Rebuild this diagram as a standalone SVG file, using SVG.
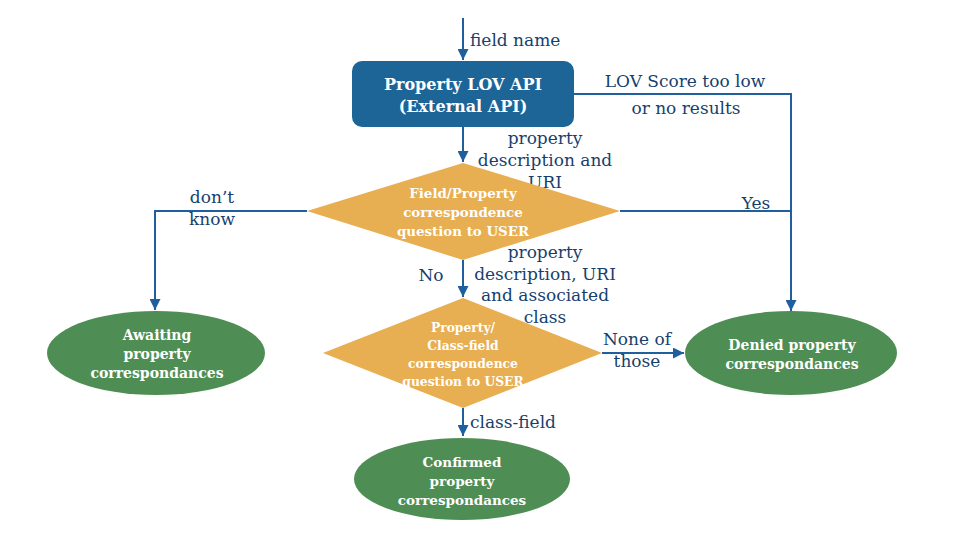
<svg xmlns="http://www.w3.org/2000/svg" width="960" height="540" viewBox="0 0 960 540">
<style>
.lbl{font-family:"DejaVu Serif","Liberation Serif",serif;font-size:17px;fill:#173f6d}
.nt{font-family:"DejaVu Serif","Liberation Serif",serif;font-weight:bold;fill:#ffffff;text-anchor:middle}
.ln{fill:none;stroke:#1f5f9e;stroke-width:2}
.dia{fill:#e8ae52}
.ell{fill:#4e8e54}
</style>
<defs>
<marker id="ah" viewBox="0 0 10 10" refX="10" refY="5" markerWidth="6" markerHeight="5.5" orient="auto" markerUnits="strokeWidth">
<path d="M0,0 L10,5 L0,10 z" fill="#1f5f9e"/>
</marker>
</defs>
<rect width="960" height="540" fill="#ffffff"/>
<g id="connectors">
<path class="ln" d="M463,18 V60" marker-end="url(#ah)"/>
<path class="ln" d="M574,94 H791 V311" marker-end="url(#ah)"/>
<path class="ln" d="M463,127 V162" marker-end="url(#ah)"/>
<path class="ln" d="M307,211 H155 V310" marker-end="url(#ah)"/>
<path class="ln" d="M620,211 H791"/>
<path class="ln" d="M463,260 V297" marker-end="url(#ah)"/>
<path class="ln" d="M602,353 H684" marker-end="url(#ah)"/>
<path class="ln" d="M463,408 V436" marker-end="url(#ah)"/>
<text class="lbl" x="470" y="46">field name</text>
<text class="lbl" x="685" y="87" text-anchor="middle">LOV Score too low</text>
<text class="lbl" x="686" y="114" text-anchor="middle">or no results</text>
<text class="lbl" text-anchor="middle"><tspan x="545" y="144">property</tspan><tspan x="545" y="166">description and</tspan><tspan x="545" y="188">URI</tspan></text>
<text class="lbl" text-anchor="middle"><tspan x="212" y="203">don’t</tspan><tspan x="212" y="225">know</tspan></text>
<text class="lbl" x="756" y="209" text-anchor="middle">Yes</text>
<text class="lbl" x="431" y="281" text-anchor="middle">No</text>
<text class="lbl" text-anchor="middle"><tspan x="545" y="258">property</tspan><tspan x="545" y="280">description, URI</tspan><tspan x="545" y="301">and associated</tspan><tspan x="545" y="323">class</tspan></text>
<text class="lbl" text-anchor="middle"><tspan x="637" y="345">None of</tspan><tspan x="637" y="367">those</tspan></text>
<text class="lbl" x="470" y="428">class-field</text>
</g>
<g id="lov">
<rect x="352" y="61" width="222" height="66" rx="10" fill="#1d6597"/>
<text class="nt" font-size="16"><tspan x="463" y="90">Property LOV API</tspan><tspan x="463" y="112">(External API)</tspan></text>
</g>
<g id="q1">
<polygon class="dia" points="463,163 620,211 463,260 307,211"/>
<text class="nt" font-size="13.4"><tspan x="463" y="198">Field/Property</tspan><tspan x="463" y="217">correspondence</tspan><tspan x="463" y="236">question to USER</tspan></text>
</g>
<g id="q2">
<polygon class="dia" points="463,298 602,353 463,408 323,353"/>
<text class="nt" font-size="12.3"><tspan x="463" y="332">Property/</tspan><tspan x="463" y="350">Class-field</tspan><tspan x="463" y="368">correspondence</tspan><tspan x="463" y="386">question to USER</tspan></text>
</g>
<g id="awaiting">
<ellipse class="ell" cx="156" cy="353" rx="109" ry="42"/>
<text class="nt" font-size="14"><tspan x="157" y="340">Awaiting</tspan><tspan x="157" y="359">property</tspan><tspan x="157" y="378">correspondances</tspan></text>
</g>
<g id="denied">
<ellipse class="ell" cx="791" cy="353" rx="106" ry="42"/>
<text class="nt" font-size="14"><tspan x="792" y="350">Denied property</tspan><tspan x="792" y="369">correspondances</tspan></text>
</g>
<g id="confirmed">
<ellipse class="ell" cx="462" cy="479" rx="108" ry="41"/>
<text class="nt" font-size="13.5"><tspan x="462" y="467">Confirmed</tspan><tspan x="462" y="486">property</tspan><tspan x="462" y="505">correspondances</tspan></text>
</g>
</svg>
